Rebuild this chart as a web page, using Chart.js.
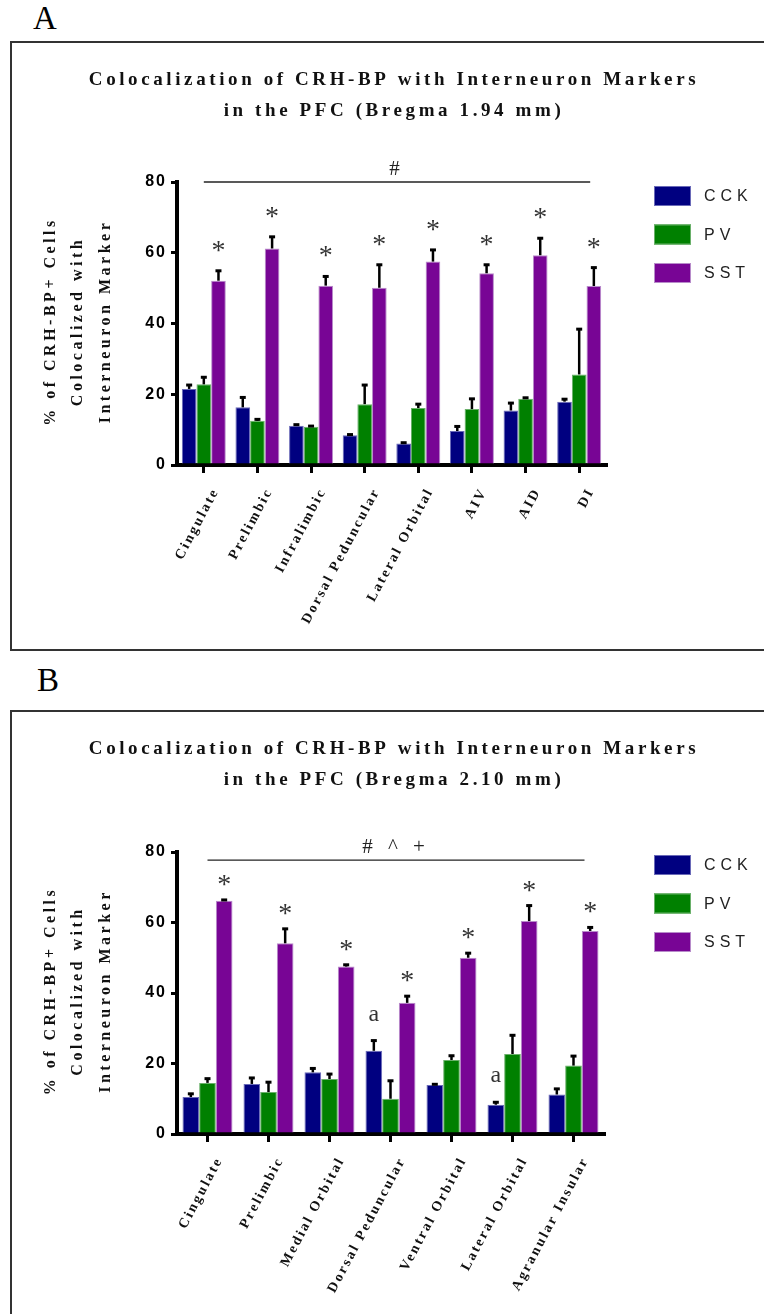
<!DOCTYPE html>
<html>
<head>
<meta charset="utf-8">
<title>CRH-BP colocalization</title>
<script src="https://cdn.jsdelivr.net/npm/chart.js@4.4.1/dist/chart.umd.min.js"></script>
<style>
  html, body { margin: 0; padding: 0; background: #fff; }
  body { width: 764px; height: 1314px; position: relative; overflow: hidden; }
  .letter { position: absolute; font: 33px "Liberation Serif", "Times New Roman", serif; line-height: 33px; color: #000; }
  .panel { position: absolute; left: 10px; width: 800px; border: 2px solid #333; }
  .panel canvas { display: block; }
</style>
</head>
<body>
<div class="letter" style="left:33px;top:2px">A</div>
<div class="panel" style="top:41px;height:606px"><canvas id="chartA" width="752" height="606"></canvas></div>
<div class="letter" style="left:37px;top:664px">B</div>
<div class="panel" style="top:710px;height:640px"><canvas id="chartB" width="752" height="602"></canvas></div>

<script>
// ---- data ----
const seriesNames = ['CCK', 'PV', 'SST'];

const regionsA = ['Cingulate', 'Prelimbic', 'Infralimbic', 'Dorsal Peduncular', 'Lateral Orbital', 'AIV', 'AID', 'DI'];
const cckA    = [21.5, 16.3, 11.1, 8.4, 6.1, 9.6, 15.4, 17.9];
const cckErrA = [1.1, 2.8, 0.3, 0.2, 0.2, 1.3, 2.1, 0.7];
const pvA     = [22.8, 12.5, 10.8, 17.2, 16.1, 15.8, 18.7, 25.6];
const pvErrA  = [2.0, 0.4, 0.2, 5.4, 1.1, 2.9, 0.3, 12.8];
const sstA    = [52.1, 61.2, 50.7, 50.1, 57.5, 54.2, 59.3, 50.6];
const sstErrA = [2.8, 3.3, 2.6, 6.5, 3.3, 2.4, 4.8, 5.2];
const sstMarksA = ['*', '*', '*', '*', '*', '*', '*', '*'];

const regionsB = ['Cingulate', 'Prelimbic', 'Medial Orbital', 'Dorsal Peduncular', 'Ventral Orbital', 'Lateral Orbital', 'Agranular Insular'];
const cckB    = [10.5, 14.2, 17.5, 23.6, 13.9, 8.3, 11.2];
const cckErrB = [0.9, 1.7, 1.1, 2.9, 0.2, 0.7, 1.6];
const pvB     = [14.5, 11.9, 15.6, 10.0, 21.0, 22.7, 19.4];
const pvErrB  = [1.2, 2.8, 1.4, 5.1, 1.2, 5.3, 2.7];
const sstB    = [66.2, 54.1, 47.5, 37.2, 50.0, 60.4, 57.6];
const sstErrB = [0.2, 4.1, 0.5, 1.9, 1.3, 4.4, 1.0];
const cckMarksB = ['', '', '', 'a', '', 'a', ''];
const sstMarksB = ['*', '*', '*', '*', '*', '*', '*'];

const titleA = ['Colocalization of CRH-BP with Interneuron Markers', 'in the PFC (Bregma 1.94 mm)'];
const titleB = ['Colocalization of CRH-BP with Interneuron Markers', 'in the PFC (Bregma 2.10 mm)'];
const yTitle = ['% of CRH-BP+ Cells', 'Colocalized with', 'Interneuron Marker'];

// ---- styling ----
const fills = ['#000080', '#008000', '#780595'];
const edges = ['#6a6ab8', '#6ab06a', '#b88cca'];
const SERIF = '"Liberation Serif", "Times New Roman", serif';
const SANS = '"Liberation Sans", Arial, sans-serif';
const markFonts = {
    '*': { font: '28px ' + SERIF, dy: 13 },
    'a': { font: '24px ' + SERIF, dy: 5 }
};

function spacedText(ctx, text, x, y, font, spacing, align, color) {
    ctx.font = font;
    ctx.letterSpacing = spacing + 'px';
    ctx.textAlign = align;
    ctx.fillStyle = color;
    ctx.fillText(text, x, y);
}

// draws error bars, significance marks, titles, category labels and legend
function panelDecor(p) {
    return {
        id: 'panelDecor',
        beforeDraw(chart) {
            chart.ctx.letterSpacing = '2px';
        },
        afterDraw(chart) {
            const ctx = chart.ctx;
            const area = chart.chartArea;
            const xs = chart.scales.x;
            const ys = chart.scales.y;
            ctx.save();
            ctx.letterSpacing = '0px';

            // error bars + marks above them
            chart.data.datasets.forEach((ds, di) => {
                const meta = chart.getDatasetMeta(di);
                meta.data.forEach((bar, i) => {
                    const yTop = ys.getPixelForValue(ds.data[i] + ds.errors[i]);
                    ctx.strokeStyle = '#000';
                    ctx.lineWidth = 2.5;
                    ctx.beginPath();
                    ctx.moveTo(bar.x, bar.y);
                    ctx.lineTo(bar.x, yTop);
                    ctx.stroke();
                    ctx.lineWidth = 3;
                    ctx.beginPath();
                    ctx.moveTo(bar.x - 3, yTop);
                    ctx.lineTo(bar.x + 3, yTop);
                    ctx.stroke();

                    const mark = ds.marks ? ds.marks[i] : '';
                    if (mark) {
                        const st = markFonts[mark];
                        const gap = mark === '*' ? p.starGap : 25;
                        ctx.textBaseline = 'alphabetic';
                        spacedText(ctx, mark, bar.x, yTop - gap + st.dy, st.font, 0, 'center', '#333');
                    }
                });
            });

            // group comparison line
            const n = chart.data.labels.length;
            const lx0 = xs.getPixelForValue(0);
            const lx1 = xs.getPixelForValue(n - 1) + 11;
            const ly = ys.getPixelForValue(p.bracketLevel);
            ctx.strokeStyle = '#222';
            ctx.lineWidth = 1.3;
            ctx.beginPath();
            ctx.moveTo(lx0, ly);
            ctx.lineTo(lx1, ly);
            ctx.stroke();
            ctx.textBaseline = 'alphabetic';
            spacedText(ctx, p.groupMark, (lx0 + lx1) / 2, ly - 7, '21px ' + SERIF, 5, 'center', '#222');

            // chart title
            ctx.textBaseline = 'middle';
            p.title.forEach((line, k) => {
                spacedText(ctx, line, 382, 37 + k * 31.5, 'bold 19px ' + SERIF, 3.6, 'center', '#111');
            });

            // rotated y-axis title
            const yMid = (area.top + area.bottom) / 2;
            [39, 66, 94].forEach((tx, k) => {
                ctx.save();
                ctx.translate(tx, yMid);
                ctx.rotate(-Math.PI / 2);
                ctx.textBaseline = 'middle';
                spacedText(ctx, yTitle[k], 2, 0, 'bold 16px ' + SERIF, 3.5, 'center', '#111');
                ctx.restore();
            });

            // slanted category labels
            const ang = -62 * Math.PI / 180;
            chart.data.labels.forEach((lab, i) => {
                ctx.save();
                ctx.translate(xs.getPixelForValue(i) + 12, area.bottom + 24);
                ctx.rotate(ang);
                ctx.textBaseline = 'middle';
                spacedText(ctx, lab, 0, 0, 'bold 14px ' + SERIF, 2.3, 'right', '#111');
                ctx.restore();
            });

            // legend
            chart.data.datasets.forEach((ds, di) => {
                const by = 143 + di * 38.5;
                ctx.fillStyle = ds.backgroundColor;
                ctx.fillRect(642, by, 37, 20);
                ctx.strokeStyle = ds.borderColor;
                ctx.lineWidth = 1;
                ctx.strokeRect(642.5, by + 0.5, 36, 19);
                ctx.textBaseline = 'middle';
                spacedText(ctx, ds.label, 692, by + 11, '16px ' + SANS, 5, 'left', '#222');
            });

            ctx.restore();
        }
    };
}

function makePanel(id, p) {
    const canvas = document.getElementById(id);
    const W = canvas.width, H = canvas.height;
    const datasets = seriesNames.map((name, i) => ({
        label: name,
        data: p.values[i],
        errors: p.errors[i],
        marks: p.marks[i],
        backgroundColor: fills[i],
        borderColor: edges[i],
        borderWidth: 1,
        barPercentage: 1,
        categoryPercentage: 0.82
    }));

    return new Chart(canvas, {
        type: 'bar',
        data: { labels: p.labels, datasets: datasets },
        options: {
            responsive: false,
            animation: false,
            events: [],
            layout: {
                autoPadding: false,
                padding: { left: p.area.left - 45, right: W - p.area.right, top: p.area.top, bottom: H - p.area.bottom - 30 }
            },
            plugins: {
                legend: { display: false },
                title: { display: false },
                tooltip: { enabled: false }
            },
            scales: {
                x: {
                    z: 1,
                    grid: { drawOnChartArea: false, offset: false, tickLength: 8, lineWidth: 3, color: '#000' },
                    border: { display: true, width: 4, color: '#000' },
                    ticks: { display: false },
                    afterFit: function(s) { s.height = 30; }
                },
                y: {
                    z: 1,
                    min: 0,
                    max: 80,
                    ticks: {
                        stepSize: 20,
                        color: '#000',
                        padding: 4,
                        font: { family: SANS, size: 16, weight: 'bold' }
                    },
                    grid: { drawOnChartArea: false, tickLength: 6, lineWidth: 3, color: '#000' },
                    border: { display: true, width: 4, color: '#000' },
                    afterFit: function(s) { s.width = 45; }
                }
            }
        },
        plugins: [panelDecor(p)]
    });
}

makePanel('chartA', {
    labels: regionsA,
    values: [cckA, pvA, sstA],
    errors: [cckErrA, pvErrA, sstErrA],
    marks: [null, null, sstMarksA],
    title: titleA,
    groupMark: '#',
    bracketLevel: 80,
    starGap: 25,
    area: { left: 165, right: 594, top: 139, bottom: 422 }
});

makePanel('chartB', {
    labels: regionsB,
    values: [cckB, pvB, sstB],
    errors: [cckErrB, pvErrB, sstErrB],
    marks: [cckMarksB, null, sstMarksB],
    title: titleB,
    groupMark: '# ^ +',
    bracketLevel: 77.7,
    starGap: 20,
    area: { left: 165, right: 592, top: 140, bottom: 422 }
});
</script>
</body>
</html>
